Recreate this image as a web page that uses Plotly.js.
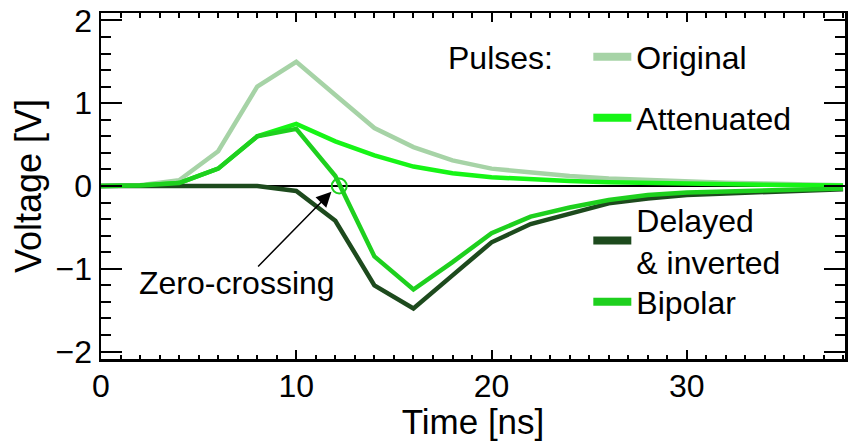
<!DOCTYPE html>
<html>
<head>
<meta charset="utf-8">
<script src="https://cdn.plot.ly/plotly-3.0.1.min.js"></script>
<style>html,body{margin:0;padding:0;background:#fff;}#chart{width:853px;height:441px;}</style>
</head>
<body>
<div id="chart"></div>
<script>
// ---- data ----
var time = [0, 2, 4, 6, 8, 10, 12, 14, 16, 18, 20, 22, 24, 26, 28, 30, 32, 34, 36, 38];
var original = [0, 0.01, 0.07, 0.42, 1.2, 1.5, 1.1, 0.7, 0.47, 0.31, 0.21, 0.16, 0.12, 0.09, 0.07, 0.05, 0.04, 0.03, 0.02, 0.01];
var attenuated = [0, 0.005, 0.035, 0.21, 0.6, 0.75, 0.54, 0.37, 0.235, 0.155, 0.105, 0.08, 0.06, 0.045, 0.035, 0.025, 0.02, 0.015, 0.01, 0.005];
var delayedInverted = [0, 0, 0, 0, 0, -0.06, -0.42, -1.2, -1.48, -1.08, -0.68, -0.46, -0.33, -0.21, -0.15, -0.11, -0.09, -0.07, -0.055, -0.04];
var bipolar = [0, 0.005, 0.035, 0.21, 0.6, 0.69, 0.12, -0.85, -1.25, -0.92, -0.57, -0.37, -0.26, -0.17, -0.11, -0.08, -0.065, -0.05, -0.04, -0.03];
var zeroCrossing = {x: 12.2, y: 0};
var seriesNames = ['Original', 'Attenuated', 'Delayed<br>& inverted', 'Bipolar'];
var xTickVals = [0, 10, 20, 30];
var yTickVals = [-2, -1, 0, 1, 2];

// ---- styles ----
var FONT = 'Liberation Sans, Arial, Helvetica, sans-serif';
var colors = ['#a6d3a6', '#16f516', '#1d4a1d', '#1ed01e'];
var series = [original, attenuated, delayedInverted, bipolar];

var traces = [];
series.forEach(function (s, i) {
  traces.push({
    x: time, y: s, type: 'scatter', mode: 'lines',
    line: {color: colors[i], width: 4.5},
    showlegend: false, hoverinfo: 'skip'
  });
});
traces.push({
  x: [zeroCrossing.x], y: [zeroCrossing.y], type: 'scatter', mode: 'markers',
  marker: {symbol: 'circle-open', size: 15, color: colors[3], line: {width: 2, color: colors[3]}},
  showlegend: false, hoverinfo: 'skip'
});
// legend-only entries (thick samples)
var legendIds = ['legend', 'legend2', 'legend3', 'legend4'];
series.forEach(function (s, i) {
  traces.push({
    x: [null], y: [null], type: 'scatter', mode: 'lines',
    name: seriesNames[i], line: {color: colors[i], width: 8},
    showlegend: true, legend: legendIds[i], hoverinfo: 'skip'
  });
});

var legendY = [0.873, 0.6965, 0.341, 0.1647];
function mkLegend(i) {
  return {
    x: 0.655, xanchor: 'left', y: legendY[i], yanchor: 'middle',
    bgcolor: 'rgba(0,0,0,0)', borderwidth: 0, itemwidth: 38,
    font: {family: FONT, size: 32, color: '#000'}
  };
}

var layout = {
  width: 853, height: 441, autosize: false,
  margin: {l: 101, r: 8, t: 13, b: 82, pad: 0},
  paper_bgcolor: '#fff', plot_bgcolor: '#fff',
  font: {family: FONT, size: 32, color: '#000'},
  showlegend: true,
  legend: mkLegend(0), legend2: mkLegend(1), legend3: mkLegend(2), legend4: mkLegend(3),
  xaxis: {
    range: [0, 38.1], tickvals: xTickVals, ticktext: xTickVals.map(String),
    ticks: 'inside', ticklen: 9, tickwidth: 2, tickcolor: '#000',
    minor: {dtick: 1, tick0: 0, ticks: 'inside', ticklen: 4.5, tickwidth: 2, tickcolor: '#000'},
    showline: true, linewidth: 2.5, linecolor: '#000', mirror: 'allticks',
    showgrid: false, zeroline: false,
    tickfont: {family: FONT, size: 32, color: '#000'},
    ticklabelstandoff: -3,
    title: {text: 'Time [ns]', font: {family: FONT, size: 35, color: '#000'}, standoff: 7}
  },
  yaxis: {
    range: [-2.09, 2.09], tickvals: yTickVals, ticktext: yTickVals.map(function (v) { return v < 0 ? '\u2212' + Math.abs(v) : String(v); }),
    ticks: 'inside', ticklen: 21, tickwidth: 2, tickcolor: '#000',
    minor: {dtick: 0.2, tick0: 0, ticks: 'inside', ticklen: 10, tickwidth: 2, tickcolor: '#000'},
    showline: true, linewidth: 2.5, linecolor: '#000', mirror: 'allticks',
    showgrid: false, zeroline: true, zerolinecolor: '#000', zerolinewidth: 2,
    tickfont: {family: FONT, size: 32, color: '#000'},
    title: {text: 'Voltage [V]', font: {family: FONT, size: 36, color: '#000'}, standoff: 3}
  },
  annotations: [
    {x: 23.25, y: 1.546, xref: 'x', yref: 'y', text: 'Pulses:', showarrow: false,
     xanchor: 'right', yanchor: 'middle', font: {family: FONT, size: 32, color: '#000'}},
    {x: 6.95, y: -1.17, xref: 'x', yref: 'y', text: 'Zero-crossing', showarrow: false,
     xanchor: 'center', yanchor: 'middle', font: {family: FONT, size: 32, color: '#000'}},
    {x: 11.8, y: -0.07, xref: 'x', yref: 'y', ax: 7.97, ay: -0.99, axref: 'x', ayref: 'y',
     text: '', showarrow: true, arrowhead: 2, arrowsize: 2, arrowwidth: 1.5, arrowcolor: '#000'}
  ]
};

Plotly.newPlot('chart', traces, layout, {staticPlot: true, displayModeBar: false});
</script>
</body>
</html>
